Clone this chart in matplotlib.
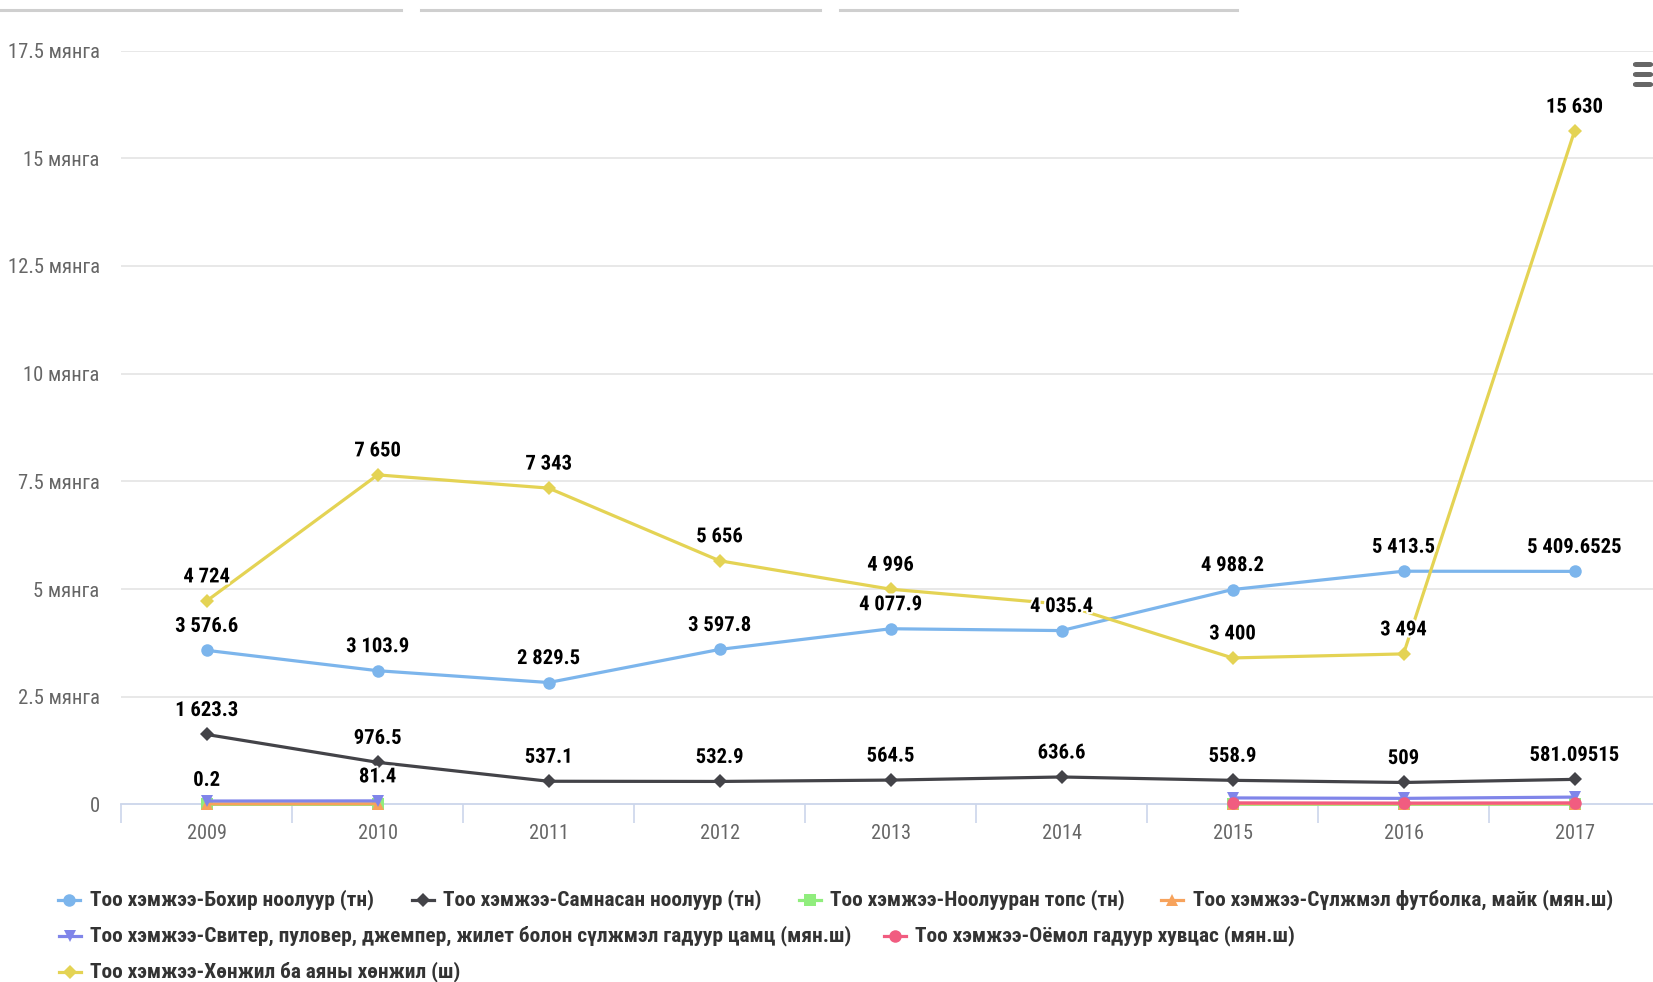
import matplotlib
matplotlib.use("Agg")
import matplotlib.pyplot as plt
from matplotlib.lines import Line2D
from matplotlib.patches import FancyBboxPatch
from matplotlib import font_manager as fm
import matplotlib.patheffects as pe
import numpy as np

# pick a narrow sans face if one is installed
available = {f.name for f in fm.fontManager.ttflist}
narrow = None
for cand in ["Roboto Condensed", "Open Sans Condensed", "Liberation Sans Narrow",
             "DejaVu Sans Condensed", "Noto Sans Condensed", "Ubuntu Condensed"]:
    if cand in available:
        narrow = cand
        break
if narrow is None:
    cond = sorted({f.name for f in fm.fontManager.ttflist
                   if str(f.stretch).lower() in ("condensed", "semi-condensed", "extra-condensed")
                   or (isinstance(f.stretch, int) and f.stretch < 500)})
    narrow = cond[0] if cond else None
base_family = [narrow, "DejaVu Sans"] if narrow else ["DejaVu Sans"]
plt.rcParams['font.family'] = base_family
plt.rcParams['font.stretch'] = 'condensed'

years = ["2009", "2010", "2011", "2012", "2013", "2014", "2015", "2016", "2017"]

raw_cashmere = [3576.6, 3103.9, 2829.5, 3597.8, 4077.9, 4035.4, 4988.2, 5413.5, 5409.6525]
combed_cashmere = [1623.3, 976.5, 537.1, 532.9, 564.5, 636.6, 558.9, 509, 581.09515]
cashmere_tops = [0.2, 0.5, None, None, None, None, 3, 2, 4]
knit_tshirts = [12, 15, None, None, None, None, 20, 18, 20]
sweaters = [78, 81.4, None, None, None, None, 150, 140, 170]
woven_outerwear = [None, None, None, None, None, None, 35, 30, 35]
blankets = [4724, 7650, 7343, 5656, 4996, 4650, 3400, 3494, 15630]

series_names = [
    "Тоо хэмжээ-Бохир ноолуур (тн)",
    "Тоо хэмжээ-Самнасан ноолуур (тн)",
    "Тоо хэмжээ-Ноолууран топс (тн)",
    "Тоо хэмжээ-Сүлжмэл футболка, майк (мян.ш)",
    "Тоо хэмжээ-Свитер, пуловер, джемпер, жилет болон сүлжмэл гадуур цамц (мян.ш)",
    "Тоо хэмжээ-Оёмол гадуур хувцас (мян.ш)",
    "Тоо хэмжээ-Хөнжил ба аяны хөнжил (ш)",
]
series_values = [raw_cashmere, combed_cashmere, cashmere_tops, knit_tshirts,
                 sweaters, woven_outerwear, blankets]
colors = ["#7cb5ec", "#434348", "#90ed7d", "#f7a35c", "#8085e9", "#f15c80", "#e4d354"]
markers = ["o", "D", "s", "^", "v", "o", "D"]
msizes = [9, 7, 8, 9, 9, 9, 7]

# which points carry a visible value label (others are suppressed by overlap)
label_points = [
    list(range(9)),
    list(range(9)),
    [0],
    [],
    [1],
    [],
    [0, 1, 2, 3, 4, 6, 7, 8],
]

W, H = 1653, 982
fig = plt.figure(figsize=(W / 100, H / 100), dpi=100)
renderer = fig.canvas.get_renderer()
ax = fig.add_axes([121.2 / W, 1 - 804.4 / H, (1660 - 121.2) / W, (804.4 - 50.6) / H])


def fit_size(text, width_px, weight="normal", start=15.0):
    """Font size at which `text` spans width_px pixels."""
    t = fig.text(0, 0, text, fontsize=start, fontweight=weight)
    w = t.get_window_extent(renderer).width
    t.remove()
    return start * width_px / w


x = np.arange(len(years))


def fmt(v):
    return format(v, ",").replace(",", " ")


label_fs = min(fit_size("1 623.3", 63, "bold"), 16)

for i, (vals, c, m, ms) in enumerate(zip(series_values, colors, markers, msizes)):
    y = np.array([np.nan if v is None else v for v in vals], dtype=float)
    ax.plot(x, y, color=c, lw=2.3, marker=m, markersize=ms, markeredgewidth=0,
            zorder=3 + i, solid_capstyle="round", clip_on=False)
    for j in label_points[i]:
        v = vals[j]
        ax.annotate(fmt(v), (x[j], v), xytext=(0, 24), textcoords="offset pixels",
                    ha="center", va="center", fontsize=label_fs, fontweight="bold",
                    color="#000000", zorder=20,
                    path_effects=[pe.withStroke(linewidth=3, foreground="white")])

ax.set_xlim(-0.5, 8.5)
ax.set_ylim(0, 17500)

yt = [0, 2500, 5000, 7500, 10000, 12500, 15000, 17500]
ytl = ["0", "2.5 мянга", "5 мянга", "7.5 мянга", "10 мянга", "12.5 мянга",
       "15 мянга", "17.5 мянга"]
ytick_fs = min(fit_size("17.5 мянга", 92), 17)
ax.set_yticks(yt)
ax.set_yticklabels(ytl)
ax.tick_params(axis="y", length=0, pad=15.5, labelsize=ytick_fs, labelcolor="#666666")
for v in yt[1:]:
    ax.axhline(v, color="#e6e6e6", lw=1.3, zorder=1)

xtick_fs = min(fit_size("2009", 40), 17)
ax.set_xticks(x)
ax.set_xticklabels(years)
ax.tick_params(axis="x", which="major", length=0, pad=14, labelsize=xtick_fs,
               labelcolor="#666666")
ax.set_xticks(np.arange(-0.5, 9.0, 1.0), minor=True)
ax.tick_params(axis="x", which="minor", length=14, width=1.2, color="#ccd6eb")

for s in ["top", "right", "left"]:
    ax.spines[s].set_visible(False)
ax.spines["bottom"].set_color("#ccd6eb")
ax.spines["bottom"].set_linewidth(1.3)
ax.spines["bottom"].set_zorder(2)


def fx(px):
    return px / W


def fy(py):
    return 1 - py / H


# legend: (series, symbol centre x, text x, row y)
legend_items = [
    (0, 68.5, 89.6, 900), (1, 423, 443, 900), (2, 810, 830, 900),
    (3, 1172, 1193, 900),
    (4, 69.6, 89.6, 936), (5, 895, 915, 936),
    (6, 69.6, 89.6, 972),
]
legend_fs = min(fit_size(series_names[4], 762, "bold"), 16)
for idx, sx, tx, ly in legend_items:
    fig.add_artist(Line2D([fx(sx - 11), fx(sx + 11)], [fy(ly), fy(ly)],
                          color=colors[idx], lw=2.3, transform=fig.transFigure))
    fig.add_artist(Line2D([fx(sx)], [fy(ly)], color=colors[idx], marker=markers[idx],
                          markersize=msizes[idx], markeredgewidth=0,
                          transform=fig.transFigure))
    fig.text(fx(tx), fy(ly), series_names[idx], ha="left", va="center",
             fontsize=legend_fs, fontweight="bold", color="#333333")

# button strip at the top
for x0, x1 in [(0, 401), (421, 820), (840, 1237)]:
    fig.add_artist(Line2D([fx(x0), fx(x1)], [fy(9.5), fy(9.5)], color="#cfcfcf",
                          lw=2.2, transform=fig.transFigure))

# context menu icon
for yb in [62, 72, 82]:
    fig.add_artist(FancyBboxPatch((fx(1633), fy(yb + 5)), fx(1653) - fx(1633),
                                  fy(yb) - fy(yb + 5),
                                  boxstyle="round,pad=0,rounding_size=0.002",
                                  transform=fig.transFigure, color="#666666", lw=0))

fig.savefig("out.png", dpi=100)
